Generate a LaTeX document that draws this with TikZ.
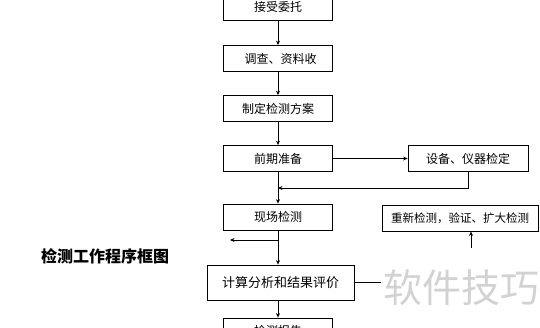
\documentclass[tikz,border=0pt]{standalone}
\usepackage{fontspec}
\newfontfamily\cjk{Noto Sans CJK SC}
\usetikzlibrary{arrows.meta,positioning}

\begin{document}
\begin{tikzpicture}[
  x=1pt, y=-1pt,
  font=\cjk\fontsize{12}{14}\selectfont,
  box/.style={draw, line width=0.8pt, inner sep=0pt, align=center, minimum width=109pt, minimum height=26pt},
  widebox/.style={box, minimum width=147pt, minimum height=35pt, font=\cjk\fontsize{13}{15}\selectfont},
  sidebox/.style={box, minimum width=120pt},
  arrow/.style={-{Stealth[length=4.5pt,width=4pt]}, line width=0.8pt},
  link/.style={line width=0.8pt},
  title/.style={font=\cjk\bfseries\fontsize{16}{18}\selectfont},
  watermark/.style={font=\cjk\fontsize{39}{42}\selectfont, text=gray!35}
]
\useasboundingbox (0,0) rectangle (540,327);

% main chain
\node[box] (accept) at (278,7) {接受委托};
\node[box] (survey) at (278,58.5) {\ \ 调查、资料收};
\node[box] (plan) at (278,108.5) {制定检测方案};
\node[box] (prep) at (278,158.5) {前期准备};
\node[box] (site) at (278,217) {现场检测};
\node[widebox] (calc) at (280.5,282.5) {计算分析和结果评价};
\node[box] (report) at (278,331) {检测报告};

% side boxes
\node[sidebox] (calib) at (468,158.5) {设备、仪器检定};
\node[box, minimum width=156pt, font=\cjk\fontsize{11.5}{13}\selectfont] (recheck) at (460,218) {重新检测，验证、扩大检测};

\node[title] (name) at (105,256) {检测工作程序框图};
\node[watermark] (wm) at (461,288) {软件技巧};

\draw[arrow] (accept.south) -- (survey.north);
\draw[arrow] (survey.south) -- (plan.north);
\draw[arrow] (plan.south) -- (prep.north);
\draw[arrow] (prep.south) -- (site.north);
\draw[arrow] (site.south) -- (site.south |- calc.north);
\draw[arrow] (calc.south -| report.north) -- (report.north);

\draw[arrow] (prep.east) -- (calib.west);
\coordinate (back) at (468,188);
\draw[arrow] (calib.south) -- (back) -- (back -| prep.south);

\coordinate (split) at (278,240);
\coordinate (left) at (230,240);
\draw[arrow] (split) -- (left);

\coordinate (out) at (381,282.5);
\draw[link] (calc.east) -- (out);
\coordinate (up) at (471,248);
\draw[arrow] (up) -- (up |- recheck.south);
\end{tikzpicture}
\end{document}
